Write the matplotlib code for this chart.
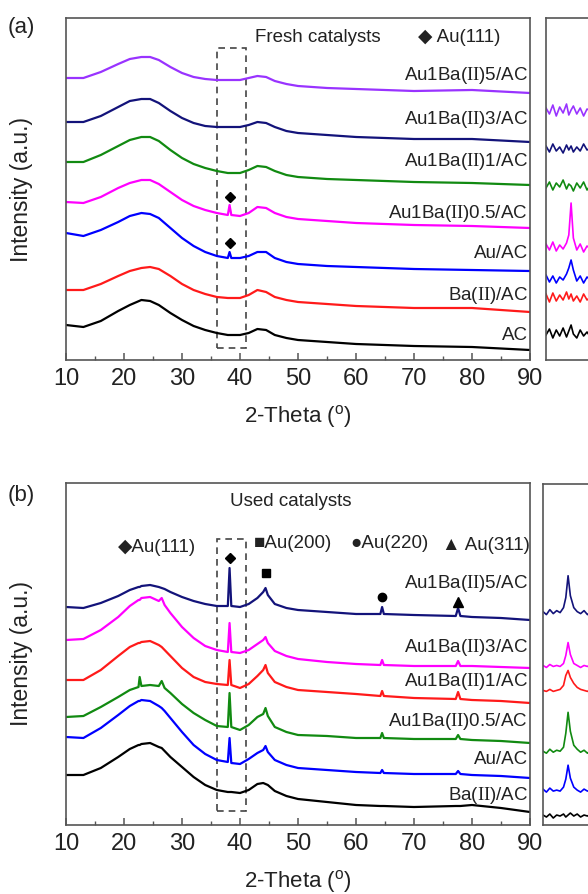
import matplotlib
matplotlib.use("Agg")
import matplotlib.pyplot as plt
from matplotlib.patches import Rectangle
from matplotlib.ticker import MultipleLocator

plt.rcParams["font.family"] = ["Liberation Sans", "DejaVu Sans"]
plt.rcParams["mathtext.fontset"] = "custom"
plt.rcParams["mathtext.rm"] = "Liberation Serif"
plt.rcParams["mathtext.sf"] = "Liberation Sans"

# ── panel (a): fresh catalysts, offset intensities (a.u.) ──
two_theta_a = [10, 13, 16, 19, 21, 23, 24.5, 26, 28, 30, 32, 34, 36, 37.9, 38.2, 38.5,
               40, 41.5, 43, 44.5, 46, 48, 50, 55, 60, 70, 80, 90]
fresh_ac = [35, 33, 39, 49, 55, 60, 59, 55, 47, 40, 34, 30, 27, 25, 25, 25,
            25, 27, 31, 30, 25, 22, 20, 18, 16, 14, 13, 10]
fresh_ba = [70, 70, 76, 84, 89, 92, 93, 91, 84, 76, 70, 66, 63, 62, 62, 62,
            62, 65, 70, 68, 63, 60, 58, 56, 54, 52, 52, 48]
fresh_au = [127, 124, 130, 138, 144, 147, 146, 142, 132, 122, 114, 108, 104, 102, 108, 102,
            102, 104, 108, 108, 102, 98, 96, 94, 93, 91, 90, 89]
fresh_aub05 = [158, 157, 163, 172, 177, 180, 180, 176, 168, 160, 154, 150, 147, 145, 155, 145,
               144, 147, 153, 152, 147, 143, 141, 139, 137, 135, 134, 132]
fresh_aub1 = [198, 198, 205, 214, 220, 223, 223, 219, 210, 202, 196, 192, 189, 187, 187, 187,
              187, 190, 194, 193, 189, 185, 183, 181, 180, 178, 177, 175]
fresh_aub3 = [238, 238, 244, 253, 259, 261, 261, 257, 249, 242, 237, 234, 233, 233, 233, 233,
              233, 235, 238, 237, 233, 229, 227, 225, 223, 221, 221, 218]
fresh_aub5 = [282, 282, 288, 296, 301, 303, 303, 300, 293, 287, 283, 281, 280, 280, 280, 280,
              280, 282, 284, 283, 279, 276, 274, 272, 271, 269, 270, 267]

# ── panel (b): used catalysts ──
two_theta_b = [10, 13, 16, 19, 21, 22.5, 22.7, 23, 24.5, 26, 26.5, 27, 28, 30, 32, 34, 36,
               37.9, 38.2, 38.5, 40, 41.5, 43, 44, 44.4, 44.8, 46, 48, 50, 55, 60,
               64.2, 64.5, 64.8, 70, 77.2, 77.6, 78, 80, 85, 90]
used_aub5 = [218, 217, 222, 229, 235, 238, 238, 239, 240, 238, 237, 236, 233, 228, 224, 221, 219,
             219, 257, 219, 218, 221, 227, 233, 237, 230, 221, 217, 215, 213, 211,
             211, 218, 211, 210, 209, 217, 209, 208, 207, 205]
used_aub3 = [185, 186, 195, 208, 219, 225, 225, 227, 228, 224, 227, 220, 212, 198, 187, 179, 175,
             173, 202, 173, 172, 175, 181, 185, 188, 182, 174, 169, 166, 163, 161,
             160, 165, 160, 159, 159, 164, 159, 159, 158, 157]
used_aub1 = [145, 145, 155, 169, 178, 182, 182, 183, 184, 180, 178, 175, 169, 157, 148, 143, 141,
             140, 165, 140, 137, 141, 149, 155, 160, 152, 143, 138, 135, 133, 131,
             129, 134, 129, 127, 126, 133, 126, 125, 124, 122]
used_aub05 = [108, 109, 118, 128, 135, 138, 148, 139, 140, 139, 144, 137, 132, 121, 112, 105, 99,
              98, 132, 98, 95, 100, 108, 111, 117, 109, 98, 93, 90, 89, 87,
              87, 92, 87, 86, 86, 90, 86, 85, 84, 82]
used_au = [88, 87, 97, 110, 119, 124, 124, 125, 124, 119, 117, 114, 107, 93, 80, 71, 65,
           63, 87, 62, 61, 66, 72, 75, 79, 73, 65, 60, 57, 55, 53,
           52, 55, 52, 51, 51, 54, 51, 50, 49, 47]
used_ba = [50, 50, 57, 68, 76, 80, 80, 81, 82, 78, 77, 74, 68, 58, 48, 40, 35,
           33, 33, 33, 32, 35, 41, 42, 41, 40, 34, 29, 26, 23, 20,
           19, 19, 19, 18, 19, 19, 19, 20, 17, 13]

# ── zoomed 36-41 deg windows (insets) ──
two_theta_zoom = [36, 36.3, 36.6, 36.9, 37.2, 37.5, 37.8, 38.0, 38.2, 38.4,
                  38.7, 39.0, 39.3, 39.6, 39.9, 40.2, 40.5, 40.8, 41.0]
zoom_fresh = [
    [25, 31, 22, 30, 24, 32, 23, 29, 35, 26, 22, 30, 24, 28, 23, 31, 25, 29, 26],
    [66, 58, 67, 59, 65, 60, 68, 61, 66, 59, 64, 58, 66, 60, 63, 67, 59, 64, 62],
    [85, 78, 84, 77, 83, 80, 86, 92, 100, 90, 79, 84, 77, 83, 80, 85, 78, 82, 81],
    [116, 110, 118, 109, 115, 111, 117, 125, 157, 122, 110, 116, 108, 114, 111, 117, 109, 114, 112],
    [172, 178, 170, 177, 173, 180, 171, 176, 174, 169, 177, 172, 178, 170, 175, 173, 177, 171, 175],
    [214, 208, 216, 209, 213, 207, 215, 210, 214, 208, 213, 209, 216, 210, 212, 208, 214, 211, 212],
    [252, 246, 255, 244, 253, 247, 256, 245, 250, 254, 246, 252, 244, 251, 249, 253, 247, 251, 249],
]
zoom_used = [
    [10, 8, 11, 7, 10, 9, 11, 8, 10, 12, 9, 11, 8, 10, 9, 11, 8, 10, 9],
    [36, 33, 37, 34, 35, 34, 38, 46, 60, 47, 38, 35, 33, 36, 34, 35, 33, 35, 34],
    [74, 72, 76, 73, 75, 74, 78, 92, 113, 94, 80, 76, 73, 75, 72, 75, 73, 74, 73],
    [135, 134, 136, 134, 135, 136, 140, 150, 155, 148, 142, 138, 136, 135, 134, 136, 134, 135, 134],
    [160, 158, 161, 159, 160, 159, 162, 170, 183, 171, 162, 160, 158, 160, 159, 161, 159, 160, 159],
    [214, 211, 216, 212, 215, 213, 218, 228, 250, 230, 218, 214, 212, 215, 211, 214, 212, 213, 212],
]

labels_a = ["AC", "Ba($\\mathrm{II}$)/AC", "Au/AC", "Au1Ba($\\mathrm{II}$)0.5/AC",
            "Au1Ba($\\mathrm{II}$)1/AC", "Au1Ba($\\mathrm{II}$)3/AC", "Au1Ba($\\mathrm{II}$)5/AC"]
label_y_a = [25, 65, 107, 147, 198, 240, 284]
colors_a = ["black", "#ff1a1a", "#0000ff", "#ff00ff", "#118a11", "#13137a", "#9933ff"]

labels_b = ["Ba($\\mathrm{II}$)/AC", "Au/AC", "Au1Ba($\\mathrm{II}$)0.5/AC",
            "Au1Ba($\\mathrm{II}$)1/AC", "Au1Ba($\\mathrm{II}$)3/AC", "Au1Ba($\\mathrm{II}$)5/AC"]
label_y_b = [30, 65, 103, 143, 177, 241]
colors_b = ["black", "#0000ff", "#118a11", "#ff1a1a", "#ff00ff", "#13137a"]

SPINE = "#555555"
TXT = "#222222"
W, H = 588, 894


def style_axes(ax, ticks=True):
    for s in ax.spines.values():
        s.set_color(SPINE)
        s.set_linewidth(1.2)
    ax.set_yticks([])
    if ticks:
        ax.set_xlim(10, 90)
        ax.xaxis.set_major_locator(MultipleLocator(10))
        ax.xaxis.set_minor_locator(MultipleLocator(5))
        ax.tick_params(axis="x", which="both", direction="in", colors=SPINE,
                       labelcolor=TXT, labelsize=17, pad=6)
        ax.tick_params(axis="x", which="major", length=5, width=1.1)
        ax.tick_params(axis="x", which="minor", length=3, width=1.0)
    else:
        ax.set_xticks([])


def px_axes(left, top, right, bottom):
    return [left / W, 1 - bottom / H, (right - left) / W, (bottom - top) / H]


fig = plt.figure(figsize=(W / 100, H / 100), dpi=100)

ax_a = fig.add_axes(px_axes(66, 18, 530, 360))
ax_b = fig.add_axes(px_axes(66, 483, 530, 825))
in_a = fig.add_axes(px_axes(546, 18, 603, 360))
in_b = fig.add_axes(px_axes(543, 484, 600, 825))

fresh = [fresh_ac, fresh_ba, fresh_au, fresh_aub05, fresh_aub1, fresh_aub3, fresh_aub5]
used = [used_ba, used_au, used_aub05, used_aub1, used_aub3, used_aub5]

for ax, xs, series, labs, ly, cols in ((ax_a, two_theta_a, fresh, labels_a, label_y_a, colors_a),
                                       (ax_b, two_theta_b, used, labels_b, label_y_b, colors_b)):
    for ys, c, lab, y in zip(series, cols, labs, ly):
        ax.plot(xs, ys, color=c, lw=1.6)
        ax.text(89.6, y, lab, ha="right", va="center", fontsize=13.5, color=TXT)
    style_axes(ax)
    ax.set_ylim(0, 342)
    ax.set_xlabel("2-Theta ($^{\\mathsf{o}}$)", fontsize=16, color=TXT)
    ax.set_ylabel("Intensity (a.u.)", fontsize=16.5, color=TXT)
    ax.yaxis.set_label_coords(-0.071, 0.5)

ax_a.xaxis.set_label_coords(0.5, -0.125)
ax_b.xaxis.set_label_coords(0.5, -0.125)

for ax, series, cols in ((in_a, zoom_fresh, colors_a), (in_b, zoom_used, colors_b)):
    for ys, c in zip(series, cols):
        ax.plot(two_theta_zoom, ys, color=c, lw=1.2)
    style_axes(ax, ticks=False)
    ax.set_xlim(36, 41)
    ax.set_ylim(0, 342)

# dashed window 36-41 deg
ax_a.add_patch(Rectangle((36, 12), 5, 300, fill=False, ls=(0, (4, 3)), lw=1.2, ec="#444444"))
ax_b.add_patch(Rectangle((36, 14), 5, 272, fill=False, ls=(0, (4, 3)), lw=1.2, ec="#444444"))

# peak markers
ax_a.plot([38.2, 38.2], [163, 117], "kD", ms=5)
ax_b.plot(38.2, 267, "kD", ms=5)
ax_b.plot(44.4, 252, "ks", ms=6)
ax_b.plot(64.5, 228, "ko", ms=6)
ax_b.plot(77.5, 223, "k^", ms=7)

ax_a.text(53.4, 323, "Fresh catalysts", ha="center", va="center", fontsize=13.5, color=TXT)
ax_a.text(70.7, 323, "\u25c6 Au(111)", ha="left", va="center", fontsize=13.5, color=TXT)
ax_b.text(48.8, 323, "Used catalysts", ha="center", va="center", fontsize=13.5, color=TXT)
ax_b.text(25.7, 278, "\u25c6Au(111)", ha="center", va="center", fontsize=13.5, color=TXT)
ax_b.text(49.1, 281, "\u25a0Au(200)", ha="center", va="center", fontsize=13.5, color=TXT)
ax_b.text(65.7, 281, "\u25cfAu(220)", ha="center", va="center", fontsize=13.5, color=TXT)
ax_b.text(82.4, 279, "\u25b2 Au(311)", ha="center", va="center", fontsize=13.5, color=TXT)

fig.text(8 / W, 1 - 27 / H, "(a)", ha="left", va="center", fontsize=16, color=TXT)
fig.text(8 / W, 1 - 495 / H, "(b)", ha="left", va="center", fontsize=16, color=TXT)

fig.savefig("out.png", dpi=100)
